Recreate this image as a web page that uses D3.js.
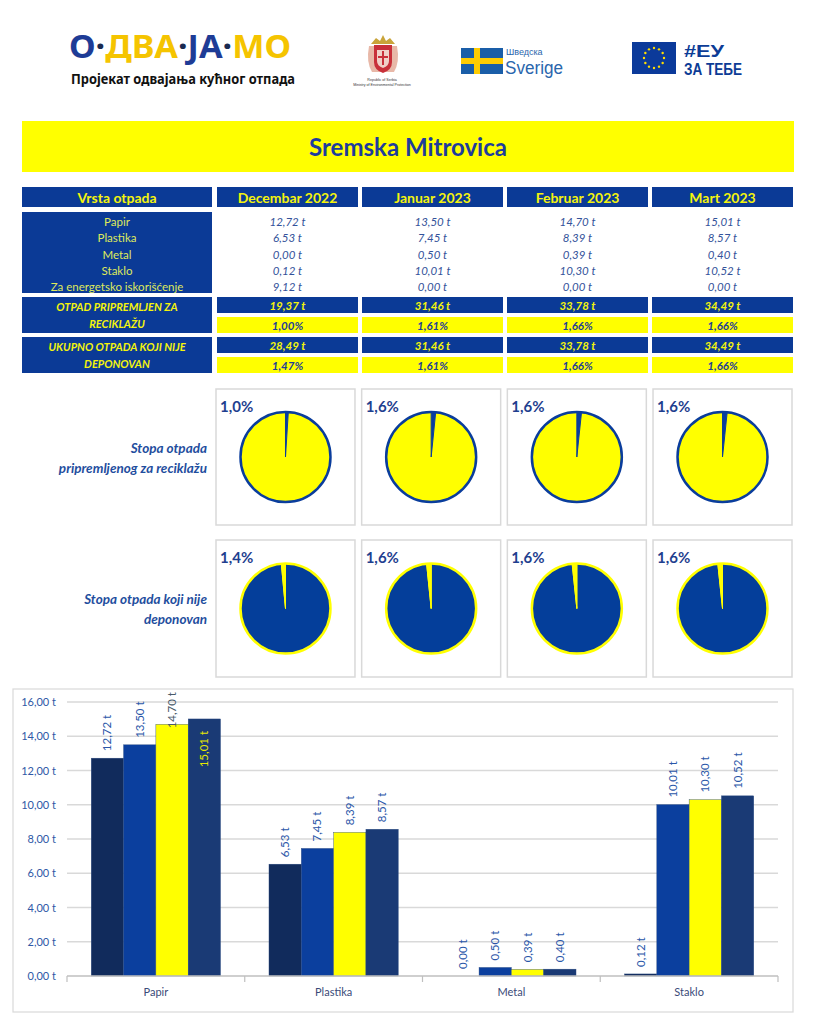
<!DOCTYPE html>
<html><head><meta charset="utf-8">
<script src="https://cdn.jsdelivr.net/npm/d3@7"></script>
<style>body{margin:0;background:#fff}svg{display:block}</style>
</head><body><svg id="c" width="822" height="1024"></svg>
<script>
// ---------- DATA ----------
const months = ["Decembar 2022", "Januar 2023", "Februar 2023", "Mart 2023"];
const wasteTypes = ["Papir", "Plastika", "Metal", "Staklo", "Za energetsko iskorišćenje"];
const dec2022 = [12.72, 6.53, 0.00, 0.12, 9.12];
const jan2023 = [13.50, 7.45, 0.50, 10.01, 0.00];
const feb2023 = [14.70, 8.39, 0.39, 10.30, 0.00];
const mar2023 = [15.01, 8.57, 0.40, 10.52, 0.00];
const recycledTotal = [19.37, 31.46, 33.78, 34.49];
const recycledRate = [1.00, 1.61, 1.66, 1.66];
const notLandfilledTotal = [28.49, 31.46, 33.78, 34.49];
const notLandfilledRate = [1.47, 1.61, 1.66, 1.66];
const pieLabelsRecycled = ["1,0%", "1,6%", "1,6%", "1,6%"];
const pieLabelsNotLandfilled = ["1,4%", "1,6%", "1,6%", "1,6%"];
const barCategories = ["Papir", "Plastika", "Metal", "Staklo"];
const yTicks = [0, 2, 4, 6, 8, 10, 12, 14, 16];
const title = "Sremska Mitrovica";

// ---------- SETUP ----------
const svg = d3.select("#c");
const loc = d3.formatLocale({decimal: ",", thousands: ".", grouping: [3], currency: ["", ""]});
const f2 = loc.format(".2f");
const BLUE = "#0b3a96", YEL = "#ffff00", VALB = "#33529a";
const FONT = "Lato, 'Open Sans', sans-serif";
const monthly = [dec2022, jan2023, feb2023, mar2023];

svg.append("rect").attr("width", 822).attr("height", 1024).attr("fill", "#fff");

// ---------- HEADER LOGOS ----------
const logo = svg.append("text").attr("x", 69).attr("y", 58)
  .attr("font-family", "'Noto Sans', sans-serif").attr("font-weight", "bold").attr("font-size", 33)
  .attr("textLength", 222).attr("lengthAdjust", "spacingAndGlyphs");
[["О", "#1e3c96"], ["·", "#1a2a50"], ["ДВА", "#f5c400"], ["·", "#1a2a50"], ["ЈА", "#1e3c96"], ["·", "#1a2a50"], ["МО", "#f5c400"]]
  .forEach(([t, c]) => logo.append("tspan").text(t).attr("fill", c));
svg.append("text").attr("x", 71).attr("y", 84).text("Пројекат одвајања кућног отпада")
  .attr("font-family", "'Noto Sans', sans-serif").attr("font-weight", "bold").attr("font-size", 13.5)
  .attr("fill", "#111").attr("textLength", 224).attr("lengthAdjust", "spacingAndGlyphs");

// Serbian coat of arms (simplified)
const ca = svg.append("g");
ca.append("path").attr("d", "M371,44 L376,38 L380,41 L383,35 L386,41 L390,38 L395,44 Z").attr("fill", "#c9a43a");
ca.append("path").attr("d", "M369,46 Q366,62 372,72 L394,72 Q400,62 397,46 Z").attr("fill", "#e8b8a8");
ca.append("path").attr("d", "M374,45 L392,45 L392,62 Q392,70 383,73 Q374,70 374,62 Z").attr("fill", "#c8303a");
ca.append("path").attr("d", "M377,50 L389,50 L389,61 Q389,66 383,68 Q377,66 377,61 Z").attr("fill", "#f0d0c8");
ca.append("rect").attr("x", 382).attr("y", 51).attr("width", 2).attr("height", 14).attr("fill", "#c8303a");
ca.append("rect").attr("x", 378).attr("y", 56).attr("width", 10).attr("height", 2).attr("fill", "#c8303a");
svg.append("text").attr("x", 382).attr("y", 81).attr("text-anchor", "middle").attr("font-size", 3.6)
  .attr("font-family", "'Liberation Sans', sans-serif").attr("fill", "#333").text("Republic of Serbia");
svg.append("text").attr("x", 382).attr("y", 86).attr("text-anchor", "middle").attr("font-size", 3.6)
  .attr("font-family", "'Liberation Sans', sans-serif").attr("fill", "#333").text("Ministry of Environmental Protection");

// Swedish flag
svg.append("rect").attr("x", 461).attr("y", 48).attr("width", 42).attr("height", 26).attr("fill", "#1a5ea8");
svg.append("rect").attr("x", 474).attr("y", 48).attr("width", 6).attr("height", 26).attr("fill", "#fecc02");
svg.append("rect").attr("x", 461).attr("y", 58).attr("width", 42).attr("height", 6).attr("fill", "#fecc02");
svg.append("text").attr("x", 506).attr("y", 54.5).text("Шведска").attr("font-size", 9)
  .attr("font-family", "'Liberation Sans', sans-serif").attr("fill", "#2a66ad");
svg.append("text").attr("x", 505).attr("y", 74).text("Sverige").attr("font-size", 18)
  .attr("font-family", "'Liberation Sans', sans-serif").attr("fill", "#2a66ad").attr("textLength", 58).attr("lengthAdjust", "spacingAndGlyphs");

// EU flag
svg.append("rect").attr("x", 632).attr("y", 42).attr("width", 44).attr("height", 32).attr("fill", "#0b3a9a");
d3.range(12).forEach(i => {
  const a = i / 12 * 2 * Math.PI;
  svg.append("circle").attr("cx", 654 + 10 * Math.sin(a)).attr("cy", 58 - 10 * Math.cos(a)).attr("r", 1.2).attr("fill", "#ffdd00");
});
svg.append("text").attr("x", 684).attr("y", 57).text("#ЕУ").attr("font-size", 16.5).attr("font-weight", "bold")
  .attr("font-family", "'Liberation Sans', sans-serif").attr("fill", "#0c3c96").attr("textLength", 40).attr("lengthAdjust", "spacingAndGlyphs");
svg.append("text").attr("x", 684).attr("y", 75).text("ЗА ТЕБЕ").attr("font-size", 16.5).attr("font-weight", "bold")
  .attr("font-family", "'Liberation Sans', sans-serif").attr("fill", "#0c3c96").attr("textLength", 58).attr("lengthAdjust", "spacingAndGlyphs");

// ---------- TITLE ----------
svg.append("rect").attr("x", 22).attr("y", 121).attr("width", 772).attr("height", 51).attr("fill", YEL);
svg.append("text").attr("x", 408).attr("y", 156).attr("text-anchor", "middle").text(title)
  .attr("font-family", FONT).attr("font-weight", "bold").attr("font-size", 24).attr("fill", "#1e3c9c");

// ---------- TABLE ----------
const colX = d3.scaleBand().domain(months).range([217, 793]).paddingInner(0.0276);
const bw = colX.bandwidth();
function cellText(x, y, t, opt) {
  return svg.append("text").attr("x", x).attr("y", y).attr("text-anchor", "middle").text(t)
    .attr("font-family", FONT).attr("font-size", opt.size || 11.5)
    .attr("font-weight", opt.bold ? "bold" : "normal").attr("font-style", opt.italic ? "italic" : "normal")
    .attr("fill", opt.fill);
}
svg.append("rect").attr("x", 22).attr("y", 187).attr("width", 190).attr("height", 20).attr("fill", BLUE);
cellText(117, 203, "Vrsta otpada", {size: 14, bold: true, fill: "#f4f40c"});
months.forEach(m => {
  svg.append("rect").attr("x", colX(m)).attr("y", 187).attr("width", bw).attr("height", 20).attr("fill", BLUE);
  cellText(colX(m) + bw / 2, 203, m, {size: 14, bold: true, fill: "#f4f40c"});
});
svg.append("rect").attr("x", 22).attr("y", 212).attr("width", 190).attr("height", 81).attr("fill", BLUE);
const rowY = i => 226 + i * 16.3;
wasteTypes.forEach((w, i) => {
  cellText(117, rowY(i), w, {size: 11.5, fill: "#dfe95c"});
  months.forEach((m, j) => cellText(colX(m) + bw / 2, rowY(i), f2(monthly[j][i]) + " t", {size: 11.5, italic: true, fill: VALB}));
});
function summary(y0, l1, l2, totals, rates) {
  svg.append("rect").attr("x", 22).attr("y", y0).attr("width", 190).attr("height", 36).attr("fill", BLUE);
  cellText(117, y0 + 14, l1, {size: 11, bold: true, italic: true, fill: "#f4f40c"});
  cellText(117, y0 + 31, l2, {size: 11, bold: true, italic: true, fill: "#f4f40c"});
  months.forEach((m, j) => {
    svg.append("rect").attr("x", colX(m)).attr("y", y0).attr("width", bw).attr("height", 16).attr("fill", BLUE);
    svg.append("rect").attr("x", colX(m)).attr("y", y0 + 20).attr("width", bw).attr("height", 16).attr("fill", YEL);
    cellText(colX(m) + bw / 2, y0 + 13, f2(totals[j]) + " t", {size: 11.5, bold: true, italic: true, fill: "#f4f40c"});
    cellText(colX(m) + bw / 2, y0 + 33, f2(rates[j]) + "%", {size: 11.5, bold: true, italic: true, fill: "#1f3f96"});
  });
}
summary(297, "OTPAD PRIPREMLJEN ZA", "RECIKLAŽU", recycledTotal, recycledRate);
summary(337, "UKUPNO OTPADA KOJI NIJE", "DEPONOVAN", notLandfilledTotal, notLandfilledRate);

// ---------- PIES ----------
const boxX = d3.scaleBand().domain(months).range([216, 792]).paddingInner(0.046);
const bbw = boxX.bandwidth();
const arc = d3.arc().innerRadius(0).outerRadius(45);
function pieRow(y0, h, rates, labels, sliceFirst, base, slice, stroke, lab1, lab2) {
  svg.append("text").attr("x", 207).attr("y", y0 + 64).attr("text-anchor", "end").text(lab1)
    .attr("font-family", FONT).attr("font-size", 13.5).attr("font-weight", "bold").attr("font-style", "italic").attr("fill", "#1f4e9e");
  svg.append("text").attr("x", 207).attr("y", y0 + 84).attr("text-anchor", "end").text(lab2)
    .attr("font-family", FONT).attr("font-size", 13.5).attr("font-weight", "bold").attr("font-style", "italic").attr("fill", "#1f4e9e");
  months.forEach((m, j) => {
    const x = boxX(m);
    svg.append("rect").attr("x", x).attr("y", y0).attr("width", bbw).attr("height", h)
      .attr("fill", "#fff").attr("stroke", "#d9d9d9").attr("stroke-width", 1.5);
    const vals = sliceFirst ? [rates[j], 100 - rates[j]] : [100 - rates[j], rates[j]];
    const cols = sliceFirst ? [slice, base] : [base, slice];
    const arcs = d3.pie().sort(null)(vals);
    const g = svg.append("g").attr("transform", `translate(${x + bbw / 2},${y0 + h / 2})`);
    g.selectAll("path").data(arcs).join("path").attr("d", arc)
      .attr("fill", (d, i) => cols[i]).attr("stroke", stroke).attr("stroke-width", 1);
    g.append("circle").attr("r", 45).attr("fill", "none").attr("stroke", stroke).attr("stroke-width", 2.5);
    svg.append("text").attr("x", x + 4).attr("y", y0 + 23).text(labels[j])
      .attr("font-family", FONT).attr("font-size", 15).attr("font-weight", "bold").attr("fill", "#1f3f8f");
  });
}
pieRow(389, 136, recycledRate, pieLabelsRecycled, true, YEL, "#0a3d9c", "#0a3d9c", "Stopa otpada", "pripremljenog za reciklažu");
pieRow(540, 137, notLandfilledRate, pieLabelsNotLandfilled, false, "#043e9a", YEL, YEL, "Stopa otpada koji nije", "deponovan");

// ---------- BAR CHART ----------
svg.append("rect").attr("x", 13).attr("y", 689).attr("width", 780).attr("height", 323)
  .attr("fill", "#fff").attr("stroke", "#d9d9d9").attr("stroke-width", 1.2);
const y = d3.scaleLinear().domain([0, 16]).range([976, 702]);
const x0 = d3.scaleBand().domain(barCategories).range([67, 778]);
const x1 = d3.scaleBand().domain(months).range([0, x0.bandwidth()]).paddingOuter(0.75);
const barColors = d3.scaleOrdinal().domain(months).range(["#112b5c", "#0b3f9e", "#ffff00", "#1a3a75"]);
svg.append("g").selectAll("line").data(yTicks.filter(t => t > 0)).join("line")
  .attr("x1", 67).attr("x2", 778).attr("y1", d => y(d)).attr("y2", d => y(d))
  .attr("stroke", "#d9d9d9").attr("stroke-width", 1.3);
svg.append("g").selectAll("text").data(yTicks).join("text")
  .attr("x", 56).attr("y", d => y(d) + 4).attr("text-anchor", "end").text(d => f2(d) + " t")
  .attr("font-family", FONT).attr("font-size", 11).attr("fill", "#2f58a6");
const bars = [];
barCategories.forEach((c, i) => months.forEach((m, j) => bars.push({c, m, v: monthly[j][i]})));
svg.append("g").selectAll("rect").data(bars).join("rect")
  .attr("x", d => x0(d.c) + x1(d.m)).attr("width", x1.bandwidth())
  .attr("y", d => y(d.v)).attr("height", d => y(0) - y(d.v))
  .attr("fill", d => barColors(d.m)).attr("stroke", "#2a4a80").attr("stroke-width", 0.4);
// axis
svg.append("line").attr("x1", 67).attr("x2", 778).attr("y1", 976).attr("y2", 976).attr("stroke", "#bfbfbf").attr("stroke-width", 1.3);
svg.append("g").selectAll("line").data(x0.domain().concat(["_end"])).join("line")
  .attr("x1", d => d === "_end" ? 778 : x0(d)).attr("x2", d => d === "_end" ? 778 : x0(d))
  .attr("y1", 976).attr("y2", 982).attr("stroke", "#bfbfbf").attr("stroke-width", 1.2);
svg.append("g").selectAll("text").data(barCategories).join("text")
  .attr("x", d => x0(d) + x0.bandwidth() / 2).attr("y", 996).attr("text-anchor", "middle").text(d => d)
  .attr("font-family", FONT).attr("font-size", 11).attr("fill", "#3a4a78");
// value labels
const limit = 692;
bars.forEach(d => {
  const cx = x0(d.c) + x1(d.m) + x1.bandwidth() / 2;
  const top = y(d.v);
  const t = svg.append("text").text(f2(d.v) + " t").attr("font-family", FONT).attr("font-size", 11.5).attr("fill", "#2a56a8");
  const len = t.node().getComputedTextLength();
  const outsideTop = top - 7 - len;
  if (outsideTop >= limit) {
    t.attr("text-anchor", "start").attr("transform", `translate(${cx + 4},${top - 7}) rotate(-90)`);
  } else if (limit - outsideTop <= 14) {
    t.attr("text-anchor", "start").attr("transform", `translate(${cx + 4},${limit + len}) rotate(-90)`).attr("fill", "#4a5a6a");
  } else {
    t.attr("text-anchor", "end").attr("transform", `translate(${cx + 4},${top + 12}) rotate(-90)`).attr("fill", "#e8e800");
  }
});
</script></body></html>
